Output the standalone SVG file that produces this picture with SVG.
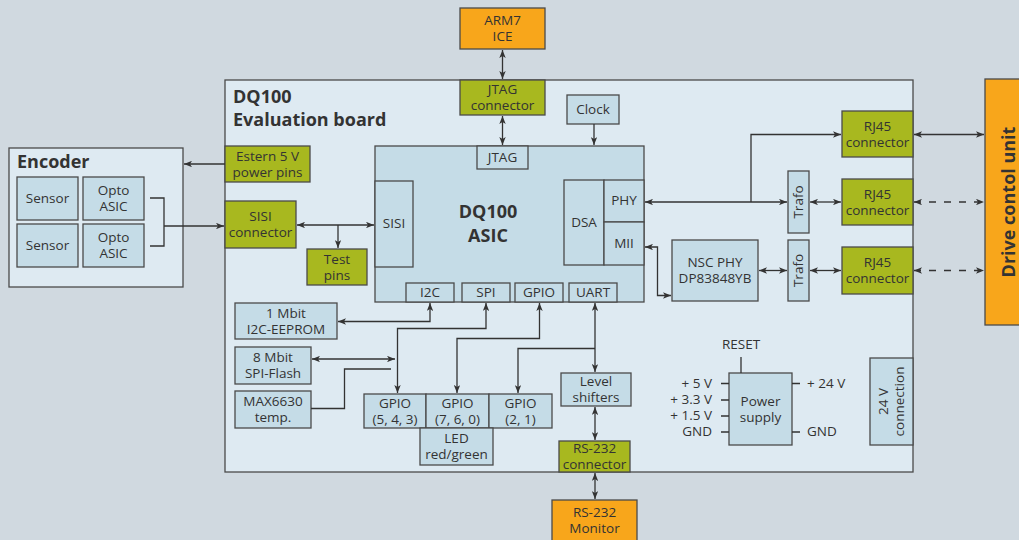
<svg xmlns="http://www.w3.org/2000/svg" width="1019" height="540" viewBox="0 0 1019 540">
<defs>
<marker id="ah" viewBox="0 0 10 8" refX="10" refY="4" markerWidth="8" markerHeight="6.4" markerUnits="userSpaceOnUse" orient="auto-start-reverse">
<path d="M0,0 L10,4 L0,8 L2.5,4 Z" fill="#333"/>
</marker>
<style>
text{font-family:"Open Sans","Noto Sans","Liberation Sans",sans-serif;font-size:13.5px;fill:#333;text-anchor:middle}
.b{font-weight:bold;font-size:18px}
.l{text-anchor:start}
.r{text-anchor:end}
.board{fill:#deeaf2;stroke:#4a4a4a;stroke-width:1.3}
.bx{fill:#c5dce7;stroke:#4a4a4a;stroke-width:1.3}
.gr{fill:#a8b81f;stroke:#4a4a4a;stroke-width:1.3}
.or{fill:#f8a61b;stroke:#4a4a4a;stroke-width:1.3}
.c{fill:none;stroke:#333;stroke-width:1.3}
.a{marker-end:url(#ah)}
.aa{marker-start:url(#ah);marker-end:url(#ah)}
.d{stroke-dasharray:7 8}
</style>
</defs>
<rect x="0" y="0" width="1019" height="540" fill="#d0d9e0"/>

<g id="board"><rect class="board" x="225" y="80" width="688" height="392"/>
<text class="b l" x="233" y="103">DQ100</text><text class="b l" x="233" y="126">Evaluation board</text></g>

<g id="encoder"><rect class="board" x="9" y="148" width="174" height="139"/>
<text class="b l" x="17" y="168">Encoder</text></g>
<g id="sensor1"><rect class="bx" x="17" y="177" width="61" height="43"/><text x="47.5" y="203">Sensor</text></g>
<g id="sensor2"><rect class="bx" x="17" y="224" width="61" height="43"/><text x="47.5" y="250">Sensor</text></g>
<g id="opto1"><rect class="bx" x="83" y="177" width="61" height="43"/><text x="113.5" y="195">Opto</text><text x="113.5" y="211">ASIC</text></g>
<g id="opto2"><rect class="bx" x="83" y="224" width="61" height="43"/><text x="113.5" y="242">Opto</text><text x="113.5" y="258">ASIC</text></g>

<g id="estern"><rect class="gr" x="225" y="146" width="85" height="36"/><text x="267.5" y="160.5">Estern 5 V</text><text x="267.5" y="176.5">power pins</text></g>
<g id="sisi-conn"><rect class="gr" x="225" y="201" width="71" height="47"/><text x="260.5" y="221">SISI</text><text x="260.5" y="237">connector</text></g>
<g id="testpins"><rect class="gr" x="307" y="249" width="60" height="36"/><text x="337" y="263.5">Test</text><text x="337" y="279.5">pins</text></g>

<g id="arm7"><rect class="or" x="460" y="8" width="85" height="41"/><text x="502.5" y="25">ARM7</text><text x="502.5" y="41">ICE</text></g>
<g id="jtag-conn"><rect class="gr" x="460" y="80" width="85" height="35"/><text x="502.5" y="94">JTAG</text><text x="502.5" y="110">connector</text></g>
<g id="clock"><rect class="bx" x="567" y="95" width="52" height="29"/><text x="593" y="114">Clock</text></g>

<g id="asic"><rect class="bx" x="375" y="146" width="269" height="156"/>
<text class="b" x="488" y="218">DQ100</text><text class="b" x="488" y="242">ASIC</text></g>
<g id="jtag"><rect class="bx" x="477" y="146" width="51" height="23"/><text x="502.5" y="162">JTAG</text></g>
<g id="sisi"><rect class="bx" x="375" y="181" width="38" height="86"/><text x="394" y="228">SISI</text></g>
<g id="dsa"><rect class="bx" x="564" y="180" width="40" height="85"/><text x="584" y="227">DSA</text></g>
<g id="phy"><rect class="bx" x="604" y="180" width="40" height="42"/><text x="624" y="205">PHY</text></g>
<g id="mii"><rect class="bx" x="604" y="222" width="40" height="43"/><text x="624" y="248">MII</text></g>
<g id="i2c"><rect class="bx" x="406" y="283" width="48" height="19"/><text x="430" y="297">I2C</text></g>
<g id="spi"><rect class="bx" x="462" y="283" width="48" height="19"/><text x="486" y="297">SPI</text></g>
<g id="gpio"><rect class="bx" x="515" y="283" width="48" height="19"/><text x="539" y="297">GPIO</text></g>
<g id="uart"><rect class="bx" x="569" y="283" width="48" height="19"/><text x="593" y="297">UART</text></g>

<g id="eeprom"><rect class="bx" x="235" y="303" width="102" height="36"/><text x="286" y="317.5">1 Mbit</text><text x="286" y="333.5">I2C-EEPROM</text></g>
<g id="flash"><rect class="bx" x="235" y="347" width="76" height="37"/><text x="273" y="362">8 Mbit</text><text x="273" y="378">SPI-Flash</text></g>
<g id="max"><rect class="bx" x="235" y="391" width="76" height="37"/><text x="273" y="406">MAX6630</text><text x="273" y="422">temp.</text></g>

<g id="gpio543"><rect class="bx" x="364" y="394" width="62" height="34"/><text x="395" y="408">GPIO</text><text x="395" y="424">(5, 4, 3)</text></g>
<g id="gpio760"><rect class="bx" x="426" y="394" width="63" height="34"/><text x="457.5" y="408">GPIO</text><text x="457.5" y="424">(7, 6, 0)</text></g>
<g id="gpio21"><rect class="bx" x="489" y="394" width="63" height="34"/><text x="520.5" y="408">GPIO</text><text x="520.5" y="424">(2, 1)</text></g>
<g id="led"><rect class="bx" x="420" y="428" width="73" height="37"/><text x="456.5" y="443">LED</text><text x="456.5" y="459">red/green</text></g>

<g id="level"><rect class="bx" x="561" y="373" width="70" height="33"/><text x="596" y="386">Level</text><text x="596" y="402">shifters</text></g>
<g id="rs232-conn"><rect class="gr" x="559" y="441" width="71" height="31"/><text x="594.5" y="453">RS-232</text><text x="594.5" y="469">connector</text></g>
<g id="rs232-mon"><rect class="or" x="552" y="500" width="85" height="45"/><text x="594.5" y="517">RS-232</text><text x="594.5" y="533">Monitor</text></g>

<g id="nscphy"><rect class="bx" x="672" y="240" width="86" height="61"/><text x="715" y="267">NSC PHY</text><text x="715" y="283">DP83848YB</text></g>
<g id="trafo1"><rect class="bx" x="788" y="171" width="21" height="62"/><text transform="translate(803,202) rotate(-90)" x="0" y="0">Trafo</text></g>
<g id="trafo2"><rect class="bx" x="788" y="240" width="21" height="61"/><text transform="translate(803,270.5) rotate(-90)" x="0" y="0">Trafo</text></g>
<g id="rj45-1"><rect class="gr" x="842" y="111" width="71" height="46"/><text x="877.5" y="130.5">RJ45</text><text x="877.5" y="146.5">connector</text></g>
<g id="rj45-2"><rect class="gr" x="842" y="179" width="71" height="46"/><text x="877.5" y="198.5">RJ45</text><text x="877.5" y="214.5">connector</text></g>
<g id="rj45-3"><rect class="gr" x="842" y="247" width="71" height="47"/><text x="877.5" y="267">RJ45</text><text x="877.5" y="283">connector</text></g>
<g id="drive"><rect class="or" x="985" y="79" width="40" height="246"/><text class="b" transform="translate(1015,202) rotate(-90)" x="0" y="0">Drive contol unit</text></g>

<g id="power"><rect class="bx" x="729" y="373" width="63" height="72"/><text x="760.5" y="406">Power</text><text x="760.5" y="422">supply</text>
<text x="741" y="349">RESET</text>
<text class="r" x="712" y="388">+ 5 V</text><text class="r" x="712" y="404">+ 3.3 V</text><text class="r" x="712" y="420">+ 1.5 V</text><text class="r" x="712" y="436">GND</text>
<text class="l" x="807" y="388">+ 24 V</text><text class="l" x="807" y="436">GND</text>
<path class="c" d="M741,373 V357 M721,383.5 H729 M721,400 H729 M721,416 H729 M721,432 H729 M792,383.5 H800 M792,432 H800"/></g>
<g id="conn24"><rect class="bx" x="870" y="358" width="43" height="87"/><text transform="translate(891.5,401.5) rotate(-90)" x="0" y="-4">24 V</text><text transform="translate(891.5,401.5) rotate(-90)" x="0" y="12">connection</text></g>

<g id="connectors">
<path class="c a" d="M225,164 H184"/>
<path class="c" d="M150,198 H164 V246 H150"/>
<path class="c a" d="M164,226 H224"/>
<path class="c aa" d="M297,225 H374"/>
<path class="c a" d="M338,225 V248"/>
<path class="c aa" d="M502.5,50 V79"/>
<path class="c aa" d="M502.5,116 V145"/>
<path class="c a" d="M594,124 V145"/>
<path class="c aa" d="M645,202 H787"/>
<path class="c a" d="M751,202 V134.5 H841"/>
<path class="c aa" d="M810,202 H841"/>
<path class="c aa" d="M645,247 H657.5 V295.5 H671"/>
<path class="c aa" d="M759,270.5 H787"/>
<path class="c aa" d="M810,270.5 H841"/>
<path class="c aa" d="M914,134.5 H984"/>
<path class="c aa d" d="M914,202 H984"/>
<path class="c aa d" d="M914,270.5 H984"/>
<path class="c aa" d="M430,303 V321.5 H338"/>
<path class="c aa" d="M486,303 V328.5 H397.5 V393"/>
<path class="c aa" d="M312,359 H395"/>
<path class="c" d="M311,408.5 H344.5 V369 H391"/>
<path class="c aa" d="M539.5,303 V338.5 H457 V393"/>
<path class="c aa" d="M595,303 V372"/>
<path class="c a" d="M595,348.5 H518 V393"/>
<path class="c aa" d="M595,407 V440"/>
<path class="c aa" d="M595,473 V499"/>
</g>
</svg>
